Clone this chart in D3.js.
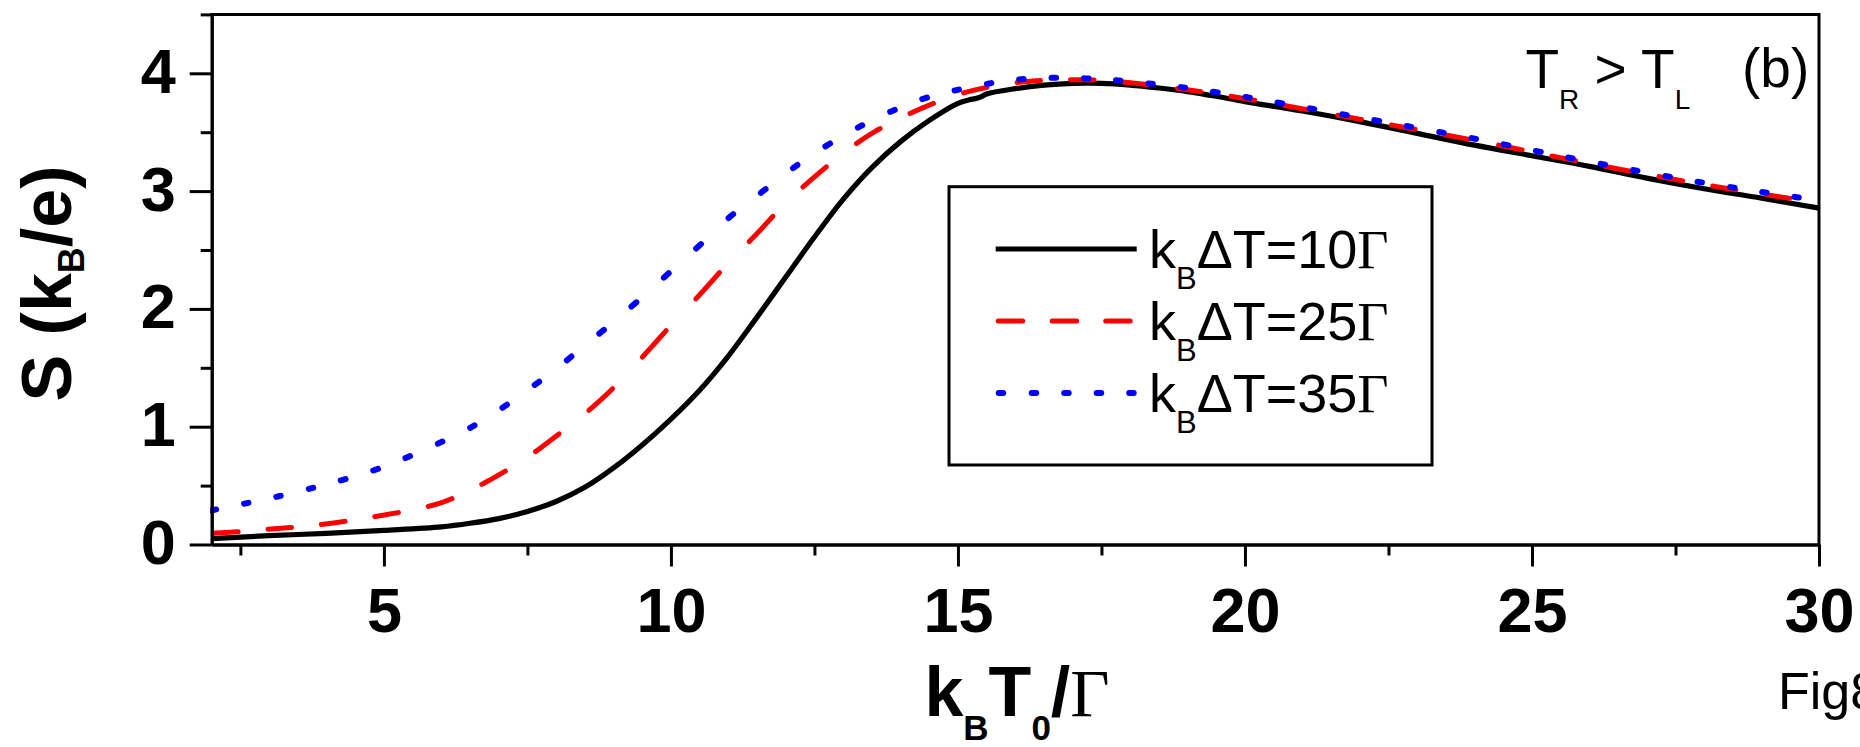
<!DOCTYPE html>
<html><head><meta charset="utf-8">
<script src="https://cdn.jsdelivr.net/npm/d3@7"></script>
<style>body{margin:0;background:#fff;} svg{display:block;}</style>
</head><body>
<svg id="chart" width="1860" height="747"></svg>
<script>
// ---- data ----
const xMajorTicks = [5, 10, 15, 20, 25, 30];
const xMinorTicks = [2.5, 7.5, 12.5, 17.5, 22.5, 27.5];
const yMajorTicks = [0, 1, 2, 3, 4];
const yMinorTicks = [0.5, 1.5, 2.5, 3.5, 4.5];

const seriesNames = ["10", "25", "35"];

const x10 = [2,3,4,5,6,6.5,7,7.5,8,8.5,9,9.5,10,10.5,11,11.5,12,12.5,13,13.5,14,14.5,15,15.2,15.3,15.4,15.5,16,16.5,17,17.5,18,18.5,19,19.5,20,21,22,23,24,25,26,27,28,29,30];
const y10 = [0.05,0.075,0.095,0.12,0.15,0.18,0.22,0.28,0.365,0.485,0.65,0.845,1.065,1.31,1.60,1.93,2.27,2.61,2.93,3.20,3.42,3.60,3.745,3.775,3.785,3.80,3.825,3.87,3.90,3.915,3.915,3.90,3.875,3.845,3.805,3.76,3.68,3.59,3.49,3.39,3.30,3.21,3.11,3.02,2.94,2.855];

const x25 = [2,2.5,3,3.5,4,4.5,5,5.5,6,6.5,7,7.5,8,8.5,9,9.5,10,10.5,11,11.5,12,12.5,13,13.5,14,14.5,15,15.5,16,16.5,17,17.5,18,19,20,22,24,26,28,30];
const y25 = [0.095,0.11,0.13,0.15,0.175,0.21,0.25,0.295,0.355,0.46,0.59,0.74,0.92,1.11,1.33,1.59,1.86,2.12,2.39,2.64,2.90,3.12,3.32,3.49,3.62,3.73,3.82,3.88,3.92,3.94,3.945,3.94,3.92,3.86,3.785,3.61,3.43,3.235,3.055,2.90];

const x35 = [2,2.5,3,3.5,4,4.5,5,5.5,6,6.5,7,7.5,8,8.5,9,9.5,10,10.5,11,11.5,12,12.5,13,13.5,14,14.5,15,15.5,16,16.5,17,17.5,18,19,20,22,24,26,28,30];
const y35 = [0.29,0.34,0.39,0.45,0.51,0.58,0.66,0.76,0.87,0.99,1.14,1.31,1.49,1.69,1.89,2.10,2.32,2.54,2.77,2.96,3.15,3.32,3.47,3.60,3.71,3.80,3.86,3.91,3.945,3.96,3.96,3.95,3.93,3.875,3.80,3.625,3.445,3.25,3.07,2.92];

// ---- layout ----
const L = 211.7, R = 1819, B = 544.5;
const x = d3.scaleLinear().domain([2, 30]).range([L, R]);
const y = d3.scaleLinear().domain([0, 4.5]).range([B, B - 4.5 * 117.8]);
const T = y(4.5);

const svg = d3.select("#chart");
const SANS = "'Liberation Sans', Arial, sans-serif";
const SERIF = "'Liberation Serif', 'Times New Roman', serif";

svg.append("defs").append("clipPath").attr("id", "plotclip")
  .append("rect").attr("x", L - 1.5).attr("y", 0).attr("width", R - L + 3).attr("height", B + 1);

const lineGen = d3.line().x(d => x(d[0])).y(d => y(d[1])).curve(d3.curveCatmullRom.alpha(0.5));
const pts = (xs, ys) => xs.map((v, i) => [v, ys[i]]);

const curves = svg.append("g").attr("clip-path", "url(#plotclip)");

// dash pattern measured along horizontal distance (as in the reference)
function dashSegments(node, period, on, offset) {
  const len = node.getTotalLength();
  const x0 = node.getPointAtLength(0).x;
  const segs = []; let cur = null;
  for (let s = 0; s <= len; s += 0.5) {
    const p = node.getPointAtLength(s);
    const ph = (((p.x - x0 - offset) % period) + period) % period;
    if (ph < on) { if (!cur) { cur = []; segs.push(cur); } cur.push([p.x, p.y]); }
    else cur = null;
  }
  return segs;
}
const rawLine = d3.line();
function drawDashed(g, d, color, width, period, on, offset) {
  const tmp = g.append("path").attr("d", d).attr("fill", "none").attr("stroke", "none");
  const segs = dashSegments(tmp.node(), period, on, offset);
  tmp.remove();
  g.selectAll(null).data(segs).enter().append("path")
    .attr("d", s => rawLine(s.length > 1 ? s : [s[0], s[0]]))
    .attr("fill", "none").attr("stroke", color).attr("stroke-width", width)
    .attr("stroke-linecap", "round").attr("stroke-linejoin", "round");
}

// black solid
curves.append("path").attr("d", lineGen(pts(x10, y10)))
  .attr("fill", "none").attr("stroke", "#000").attr("stroke-width", 5.2).attr("stroke-linejoin", "round");
// red dashed
drawDashed(curves, lineGen(pts(x25, y25)), "#ff0000", 5, 53.5, 24, 2.5);
// blue dotted
drawDashed(curves, lineGen(pts(x35, y35)), "#0000ff", 6, 32.3, 5, -0.2);

// ---- axes ----
const axStyle = g => {
  g.select(".domain").attr("stroke", "#000").attr("stroke-width", 3);
  g.selectAll(".tick line").attr("stroke", "#000").attr("stroke-width", 3);
};
const xAxisG = svg.append("g").attr("transform", `translate(0,${B})`)
  .call(d3.axisBottom(x).tickValues(xMajorTicks).tickSize(22).tickSizeOuter(0).tickFormat(d3.format("d")));
svg.append("g").attr("transform", `translate(0,${B})`)
  .call(d3.axisBottom(x).tickValues(xMinorTicks).tickSize(11).tickSizeOuter(0).tickFormat(""))
  .call(axStyle);
xAxisG.call(axStyle);
xAxisG.selectAll(".tick text").attr("y", 87.8).attr("dy", 0)
  .attr("font-family", SANS).attr("font-weight", "bold").attr("font-size", 63).attr("fill", "#000");

const yAxisG = svg.append("g").attr("transform", `translate(${L},0)`)
  .call(d3.axisLeft(y).tickValues(yMajorTicks).tickSize(22).tickSizeOuter(0).tickFormat(d3.format("d")));
svg.append("g").attr("transform", `translate(${L},0)`)
  .call(d3.axisLeft(y).tickValues(yMinorTicks).tickSize(11).tickSizeOuter(0).tickFormat(""))
  .call(axStyle);
yAxisG.call(axStyle);
yAxisG.selectAll(".tick text").attr("x", -36).attr("dy", 0).attr("y", 19)
  .attr("font-family", SANS).attr("font-weight", "bold").attr("font-size", 63).attr("fill", "#000");

// frame top & right
svg.append("path").attr("d", `M${L},${T}H${R}V${B}`)
  .attr("fill", "none").attr("stroke", "#000").attr("stroke-width", 3).attr("stroke-linecap", "square");

// ---- axis titles ----
const xt = svg.append("text").attr("x", 1017).attr("y", 716).attr("text-anchor", "middle")
  .attr("font-family", SANS).attr("font-weight", "bold").attr("font-size", 70);
xt.append("tspan").text("k");
xt.append("tspan").attr("font-size", 35).attr("dy", 24).text("B");
xt.append("tspan").attr("dy", -24).text("T");
xt.append("tspan").attr("font-size", 35).attr("dy", 24).text("0");
xt.append("tspan").attr("dy", -24).text("/");
xt.append("tspan").attr("font-family", SERIF).attr("font-weight", "normal").attr("font-size", 68).text("Γ");

const yt = svg.append("text").attr("transform", "translate(71,283.5) rotate(-90)").attr("text-anchor", "middle")
  .attr("font-family", SANS).attr("font-weight", "bold").attr("font-size", 70);
yt.append("tspan").text("S (k");
yt.append("tspan").attr("font-size", 36).attr("dy", 13).text("B");
yt.append("tspan").attr("dy", -13).text("/e)");

// ---- annotation ----
const an = svg.append("text").attr("x", 1525.5).attr("y", 87.7)
  .attr("font-family", SANS).attr("font-size", 55);
an.append("tspan").text("T");
an.append("tspan").attr("font-size", 28).attr("dy", 21).text("R");
an.append("tspan").attr("dy", -21).text(" > T");
an.append("tspan").attr("font-size", 28).attr("dy", 21).text("L");
svg.append("text").attr("x", 1742).attr("y", 87).attr("font-family", SANS).attr("font-size", 55).text("(b)");

svg.append("text").attr("x", 1778).attr("y", 709).attr("font-family", SANS).attr("font-size", 52).text("Fig8");

// ---- legend ----
const lg = svg.append("g");
lg.append("rect").attr("x", 949).attr("y", 186.7).attr("width", 483).attr("height", 278.3)
  .attr("fill", "#fff").attr("stroke", "#000").attr("stroke-width", 3);
const rowsY = [249, 321, 393];
const lx0 = 995.7, lx1 = 1136.7;
lg.append("line").attr("x1", lx0).attr("x2", lx1).attr("y1", rowsY[0]).attr("y2", rowsY[0])
  .attr("stroke", "#000").attr("stroke-width", 5.2);
drawDashed(lg, `M${lx0},${rowsY[1]}H${lx1}`, "#ff0000", 5, 53.7, 25, 2.5);
drawDashed(lg, `M${lx0},${rowsY[2]}H${lx1}`, "#0000ff", 6, 32.6, 5, 3);
seriesNames.forEach((n, i) => {
  const t = lg.append("text").attr("x", 1149).attr("y", rowsY[i] + 19)
    .attr("font-family", SANS).attr("font-size", 54);
  t.append("tspan").text("k");
  t.append("tspan").attr("font-size", 31).attr("dy", 21).text("B");
  t.append("tspan").attr("dy", -21).text("ΔT=" + n);
  t.append("tspan").attr("font-family", SERIF).text("Γ");
});
</script>
</body></html>
